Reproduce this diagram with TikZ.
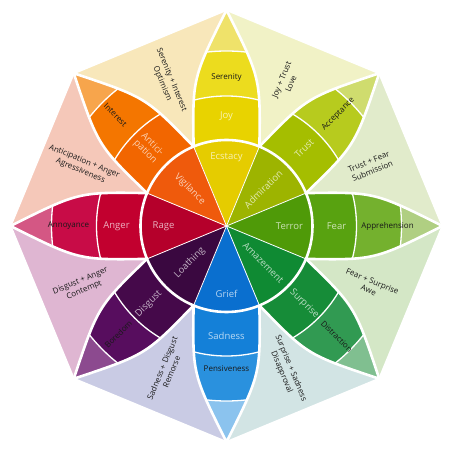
\documentclass[tikz,border=0pt]{standalone}
\usepackage{fontspec}
\setmainfont{Open Sans}
\usepackage{tikz}
\usetikzlibrary{calc}
\definecolor{ecstacy}{HTML}{E5CC00}\definecolor{joy}{HTML}{E8D300}\definecolor{serenity}{HTML}{ECDC1E}\definecolor{joytip}{HTML}{EFE26A}
\definecolor{admiration}{HTML}{9DB400}\definecolor{trust}{HTML}{A5BE00}\definecolor{acceptance}{HTML}{B7CB1E}\definecolor{trusttip}{HTML}{CFDC6E}
\definecolor{terror}{HTML}{4F9A08}\definecolor{fear}{HTML}{58A210}\definecolor{apprehension}{HTML}{74B12E}\definecolor{feartip}{HTML}{B0CF82}
\definecolor{amazement}{HTML}{0F8A33}\definecolor{surprise}{HTML}{168C38}\definecolor{distraction}{HTML}{319A52}\definecolor{surprisetip}{HTML}{80BF90}
\definecolor{grief}{HTML}{0A6FCF}\definecolor{sadness}{HTML}{1480D8}\definecolor{pensiveness}{HTML}{2A91DE}\definecolor{sadnesstip}{HTML}{8BC3EE}
\definecolor{loathing}{HTML}{3A0840}\definecolor{disgust}{HTML}{45094A}\definecolor{boredom}{HTML}{570D5E}\definecolor{disgusttip}{HTML}{8C4A8F}
\definecolor{rage}{HTML}{B5002B}\definecolor{anger}{HTML}{C2002F}\definecolor{annoyance}{HTML}{C80C47}\definecolor{angertip}{HTML}{D45784}
\definecolor{vigilance}{HTML}{EF5A0C}\definecolor{anticipation}{HTML}{F26600}\definecolor{interest}{HTML}{F47600}\definecolor{anticipationtip}{HTML}{F7A54C}
\definecolor{optimism}{HTML}{F8E7BA}\definecolor{love}{HTML}{F1F2C6}\definecolor{submission}{HTML}{E1EBCB}\definecolor{awe}{HTML}{D4E7C6}
\definecolor{disapproval}{HTML}{D2E4E4}\definecolor{remorse}{HTML}{C9CBE4}\definecolor{contempt}{HTML}{DFB6D2}\definecolor{agressiveness}{HTML}{F5C8B9}
\newcommand{\petal}{(-22.5:86) .. controls (148,-34) .. (216,0) .. controls (148,34) .. (22.5:86) -- (0,0) -- cycle}
\newcommand{\petaledge}{(-22.5:86) .. controls (148,-34) .. (216,0) .. controls (148,34) .. (22.5:86)}
\tikzset{
  ringline/.style={white, line width=1.3},
  petalline/.style={white, line width=2.6, line join=round},
  corelabel/.style={font=\fontsize{9.5}{11}\selectfont, inner sep=1pt},
  midlabel/.style={font=\fontsize{9.5}{10}\selectfont, inner sep=1pt, align=center},
  outerlabel/.style={font=\fontsize{8}{9}\selectfont, inner sep=1pt, text=black!90},
  dyadlabel/.style={font=\fontsize{8}{10}\selectfont, inner sep=1pt, align=center, text=black!90}
}
\begin{document}
\begin{tikzpicture}[x=1pt,y=1pt]
\useasboundingbox[fill=white] (-226.5,-226) rectangle (232.5,226);
\foreach \a/\c in {112.5/optimism, 67.5/love, 22.5/submission, -22.5/awe, -67.5/disapproval, -112.5/remorse, -157.5/contempt, 157.5/agressiveness}
  \filldraw[fill=\c, draw=white, line width=2, line join=round] ({\a-22.5}:216) -- ({\a+22.5}:216) -- (\a:86) -- cycle;
\foreach \a/\ci/\cm/\co/\ct in {90/ecstacy/joy/serenity/joytip, 45/admiration/trust/acceptance/trusttip, 0/terror/fear/apprehension/feartip, -45/amazement/surprise/distraction/surprisetip, -90/grief/sadness/pensiveness/sadnesstip, -135/loathing/disgust/boredom/disgusttip, 180/rage/anger/annoyance/angertip, 135/vigilance/anticipation/interest/anticipationtip}
{
  \begin{scope}[rotate=\a]
    \begin{scope}
      \clip \petal;
      \fill[\ct] (0,0) circle (220);
      \fill[\co] (0,0) circle (175);
      \fill[\cm] (0,0) circle (130);
      \draw[ringline] (0,0) circle (130) (0,0) circle (175);
    \end{scope}
    \draw[petalline] \petaledge;
  \end{scope}
  \fill[\ci] (0,0) -- ({\a-22.5}:86) arc ({\a-22.5}:{\a+22.5}:86) -- cycle;
}
\foreach \a in {22.5,67.5,...,337.5}
  \draw[white, line width=0.8] (0,0) -- (\a:86);
\draw[white, line width=2.6] (0,0) circle (86);
\foreach \a/\r/\t/\n/\c in {90/69/0/Ecstacy/ecstacy, 45/52/45/Admiration/admiration, 0/63/0/Terror/terror, -45/52/-45/Amazement/amazement, -90/68/0/Grief/grief, -135/52/45/Loathing/loathing, 180/63/0/Rage/rage, 135/52/-45/Vigilance/vigilance}
  \node[corelabel, text=\c!30!white, rotate=\t] (core-\n) at (\a:\r) {\n};
\foreach \a/\t/\n/\txt in {90/0/joy/Joy, 45/45/trust/Trust, 0/0/fear/Fear, -45/-45/surprise/Surprise, -90/0/sadness/Sadness, -135/45/disgust/Disgust, 180/0/anger/Anger, 135/-45/anticipation/{Antici-\\pation}}
  \node[midlabel, text=\n!30!white, rotate=\t] (mid-\n) at (\a:110) {\txt};
\foreach \a/\r/\t/\n in {90/148/0/Serenity, 45/158/45/Acceptance, 0/161/0/Apprehension, -45/156/-45/Distraction, -90/143/0/Pensiveness, -135/153/45/Boredom, 180/158/0/Annoyance, 135/157/-45/Interest}
  \node[outerlabel, rotate=\t] (outer-\n) at (\a:\r) {\n};
\foreach \a/\t/\n/\txt in {112.5/-67.5/optimism/{Serenity + Interest\\Optimism}, 67.5/67.5/love/{Joy + Trust\\Love}, 22.5/22.5/submission/{Trust + Fear\\Submission}, -22.5/-22.5/awe/{Fear + Surprise\\Awe}, -67.5/-67.5/disapproval/{Surprise + Sadness\\Disapproval}, -112.5/67.5/remorse/{Sadness + Disgust\\Remorse}, -157.5/22.5/contempt/{Disgust + Anger\\Contempt}, 157.5/-22.5/agressiveness/{Anticipation + Anger\\Agressiveness}}
  \node[dyadlabel, rotate=\t] (dyad-\n) at (\a:156) {\txt};
\end{tikzpicture}
\end{document}
